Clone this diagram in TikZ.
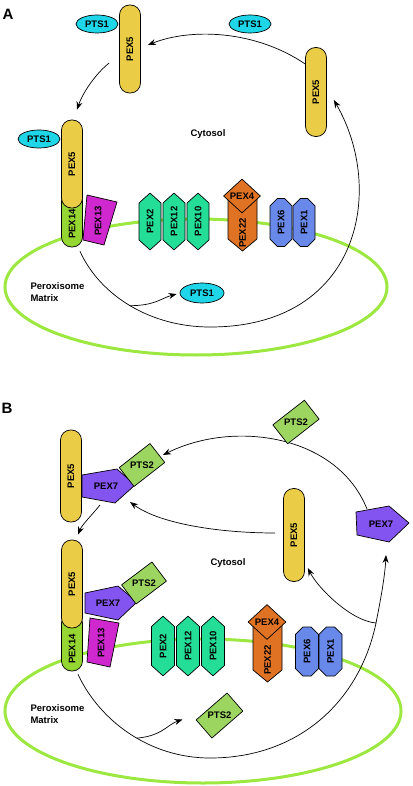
\documentclass[tikz,border=0pt]{standalone}
\usepackage{fontspec}
\setmainfont{Liberation Sans}
\usepackage{graphicx}
\usetikzlibrary{shapes.geometric,shapes.symbols,shapes.misc,arrows.meta,calc}

\pgfdeclarelayer{background}
\pgfsetlayers{background,main}

\definecolor{rodyel}{RGB}{234,204,70}
\definecolor{ptsonecol}{RGB}{30,214,232}
\definecolor{ptstwocol}{RGB}{156,214,96}
\definecolor{pexfourteencol}{RGB}{150,214,50}
\definecolor{pexthirteencol}{RGB}{206,40,206}
\definecolor{hexgreen}{RGB}{36,222,152}
\definecolor{pexorange}{RGB}{224,114,36}
\definecolor{pexblue}{RGB}{104,136,234}
\definecolor{pexsevencol}{RGB}{132,84,240}
\definecolor{membranecol}{RGB}{156,232,64}

\tikzset{
  lbl/.style={font=\fontsize{9.5}{11.5}\selectfont\bfseries},
  panel/.style={font=\fontsize{15}{18}\selectfont\bfseries},
  rod/.style={lbl, draw, fill=rodyel, rounded corners=10pt, minimum width=21pt, inner sep=0pt, line width=0.7pt},
  pexfourteenbox/.style={rod, fill=pexfourteencol},
  ptsonebox/.style={lbl, draw, fill=ptsonecol, ellipse, minimum width=42pt, minimum height=18pt, inner sep=0pt, line width=0.7pt},
  ptstwobox/.style={lbl, draw, fill=ptstwocol, minimum height=24pt, inner sep=0pt, line width=0.7pt},
  hexbox/.style={lbl, draw, fill=hexgreen, signal, signal to=north and south, signal pointer angle=96, inner sep=0pt, line width=0.7pt},
  pexfourbox/.style={lbl, draw, fill=pexorange, diamond, minimum width=37pt, minimum height=34pt, inner sep=0pt, line width=0.7pt},
  chambox/.style={lbl, draw, fill=pexblue, chamfered rectangle, chamfered rectangle xsep=4pt, chamfered rectangle ysep=4pt, minimum width=22pt, minimum height=48pt, inner sep=0pt, line width=0.7pt},
  pexsevenfill/.style={draw, fill=pexsevencol, line width=0.7pt},
  pexthirteenfill/.style={draw, fill=pexthirteencol, line width=0.7pt},
  pextwentytwofill/.style={draw, fill=pexorange, line width=0.7pt},
  membrane/.style={draw=membranecol, line width=3pt},
  line/.style={line width=0.7pt},
  flow/.style={line, -{Stealth[length=8pt,width=6pt]}}
}

\begin{document}
\begin{tikzpicture}[x=1pt,y=-1pt,line join=round]
\useasboundingbox (0,0) rectangle (412,786);

% ---------- A: PTS1 import ----------
\node[panel] (labA) at (8,14) {A};

\node[rod, minimum height=88pt] (pex5t) at (130,49) {\rotatebox{90}{PEX5}};
\node[ptsonebox] (pts1t) at (97,24) {PTS1};
\node[rod, minimum height=89pt] (pex5r) at (316,92) {\rotatebox{90}{PEX5}};
\node[ptsonebox] (pts1r) at (250,24) {PTS1};

\node[pexfourteenbox, minimum height=56pt] (pex14a) at (72,219) {\rotatebox{90}{PEX14\hspace{10pt}}};
\node[rod, minimum height=88pt] (pex5l) at (72,164) {\rotatebox{90}{PEX5}};
\node[ptsonebox] (pts1l) at (39,139) {PTS1};
\filldraw[pexthirteenfill] (87,195) -- (117,202) -- (104,245) -- (83,240) -- cycle;
\node[lbl] (pex13a) at (98,221) {\rotatebox{90}{PEX13}};

\foreach \x/\t in {150/PEX2, 174/PEX12, 198/PEX10}
  \node[hexbox, minimum width=22pt, minimum height=43pt] (\t a) at (\x,221.5) {\rotatebox{90}{\t}};

\filldraw[pextwentytwofill] (228,197) -- (228,239) -- (242.5,251) -- (257,239) -- (257,197) -- (242.5,205) -- cycle;
\node[lbl] (pex22a) at (242.5,233) {\rotatebox{90}{PEX22}};
\node[pexfourbox] (pex4a) at (242,196) {PEX4};

\foreach \x/\t in {281/PEX6, 304/PEX1}
  \node[chambox] (\t a) at (\x,222.5) {\rotatebox{90}{\t}};

\node[lbl] (cytA) at (208,134) {Cytosol};
\node[lbl, align=left, anchor=west] (matA) at (27,292) {Peroxisome\\Matrix};
\node[ptsonebox, minimum width=44pt, minimum height=20pt] (pts1m) at (202,293) {PTS1};

\coordinate (botA) at (210,327);

\begin{pgfonlayer}{background}
  \draw[membrane] (196,287) ellipse [x radius=191pt, y radius=68pt];
  \draw[flow] ($(pex5r.west)+(0,-28)$) .. controls +(-50,-34) and +(43,-17) .. ($(pex5t.east)+(7,-4)$);
  \draw[flow] ($(pex5t.west)+(-10,14)$) .. controls +(-15,12) and +(5,-15) .. ($(pex5l.north)+(5,-10)$);
  \draw[flow] ($(pex14a.south)+(8,4)$) .. controls +(20,44) and +(-60,0) .. (botA) coordinate[pos=0.5] (mA)
    .. controls +(150,0) and +(52,90) .. ($(pex5r.east)+(7,8)$);
  \draw[flow] (mA) .. controls +(25,0) and +(-15,4) .. ($(pts1m.west)+(-3,1)$);
\end{pgfonlayer}

% ---------- B: PTS2 import ----------
\node[panel] (labB) at (7,408) {B};

\node[rod, minimum height=92pt] (pex5bt) at (71,476) {\rotatebox{90}{PEX5}};
\filldraw[pexsevenfill] (82,475) -- (117,469) -- (135,485) -- (115,503) -- (82,497) -- cycle;
\node[lbl] (pex7bt) at (106,486) {PEX7};
\node[ptstwobox, rotate=38, minimum width=39pt] (pts2bt) at (142,465) {\rotatebox{-38}{PTS2}};

\node[ptstwobox, rotate=38, minimum width=40pt] (pts2bf) at (296,422) {\rotatebox{-38}{PTS2}};
\node[rod, minimum height=93pt] (pex5br) at (294,535) {\rotatebox{90}{PEX5}};
\filldraw[pexsevenfill] (356,512) -- (389,506) -- (409,523) -- (389,542) -- (357,535) -- cycle;
\node[lbl] (pex7br) at (381,524) {PEX7};

\node[pexfourteenbox, minimum height=58pt] (pex14b) at (72,642) {\rotatebox{90}{PEX14\hspace{14pt}}};
\node[rod, minimum height=88pt] (pex5bl) at (72,584) {\rotatebox{90}{PEX5}};
\filldraw[pexsevenfill] (85,593) -- (118,586) -- (137,602) -- (118,620) -- (85,613) -- cycle;
\node[lbl] (pex7bl) at (108,603) {PEX7};
\node[ptstwobox, rotate=37, minimum width=38pt] (pts2bl) at (144,583) {\rotatebox{-37}{PTS2}};
\filldraw[pexthirteenfill] (90,618) -- (119,623) -- (110,667) -- (87,662) -- cycle;
\node[lbl] (pex13b) at (101,643) {\rotatebox{90}{PEX13}};

\foreach \x/\t in {163/PEX2, 188/PEX12, 213/PEX10}
  \node[hexbox, minimum width=23pt, minimum height=45pt] (\t b) at (\x,646) {\rotatebox{90}{\t}};

\filldraw[pextwentytwofill] (253,622) -- (253,670) -- (267.5,682) -- (282,670) -- (282,622) -- (267.5,630) -- cycle;
\node[lbl] (pex22b) at (267.5,660) {\rotatebox{90}{PEX22}};
\node[pexfourbox, minimum width=38pt, minimum height=35pt] (pex4b) at (267,622) {PEX4};

\foreach \x/\t in {307/PEX6, 330.5/PEX1}
  \node[chambox, minimum width=23pt, minimum height=49pt] (\t b) at (\x,651.5) {\rotatebox{90}{\t}};

\node[lbl] (cytB) at (228,563) {Cytosol};
\node[lbl, align=left, anchor=west] (matB) at (27,714) {Peroxisome\\Matrix};
\node[ptstwobox, rotate=41, minimum width=41pt] (pts2bm) at (219.5,715.5) {\rotatebox{-41}{PTS2}};

\coordinate (botB) at (210,758);
\coordinate (forkB) at (376,623);

\begin{pgfonlayer}{background}
  \draw[membrane] (203,711) ellipse [x radius=198pt, y radius=72pt];
  \draw[flow] ($(pex7br)+(-14,-15)$) .. controls +(-30,-75) and +(70,-35) .. ($(pts2bt)+(21,-10)$);
  \draw[flow] ($(pex5br.west)+(-8,-2)$) .. controls +(-55,0) and +(30,22) .. ($(pex7bt)+(24,16)$);
  \draw[flow] ($(pex7bt)+(-6,19)$) .. controls +(-8,10) and +(4,-10) .. ($(pex5bl.north)+(6,-5)$);
  \draw[line] ($(pex14b.south)+(6,3)$) .. controls +(22,47) and +(-60,0) .. (botB) coordinate[pos=0.55] (mB)
    .. controls +(90,0) and +(-16,77) .. (forkB);
  \draw[flow] (forkB) .. controls +(5,-25) and +(-1,20) .. ($(pex7br)+(5,31)$);
  \draw[flow] (forkB) .. controls +(-25,-2) and +(10,20) .. ($(pex5br.east)+(3,33)$);
  \draw[flow] (mB) .. controls +(25,-2) and +(-15,5) .. ($(pts2bm)+(-37,4)$);
\end{pgfonlayer}
\end{tikzpicture}
\end{document}
